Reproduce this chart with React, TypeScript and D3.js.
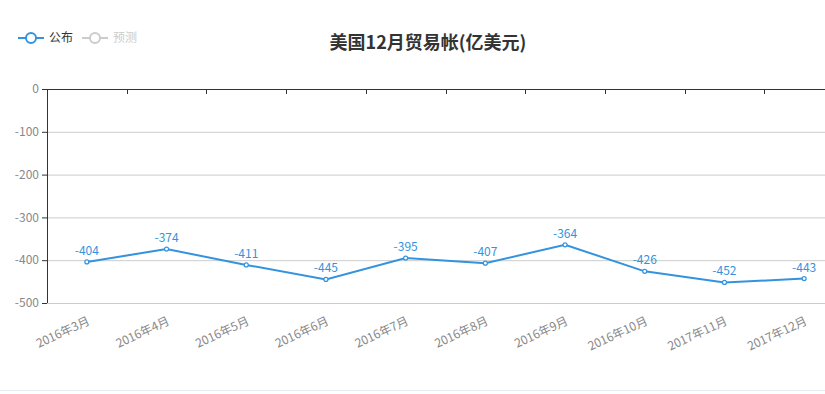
import { useEffect, useRef } from "react";
import * as d3 from "d3";

const WIDTH = 825;
const HEIGHT = 394;
const MARGIN = { top: 89, left: 47, bottom: 303, right: 844 };

const months = [
  "2016年3月",
  "2016年4月",
  "2016年5月",
  "2016年6月",
  "2016年7月",
  "2016年8月",
  "2016年9月",
  "2016年10月",
  "2017年11月",
  "2017年12月",
];
const published = [-404, -374, -411, -445, -395, -407, -364, -426, -452, -443];
const yTicks = [0, -100, -200, -300, -400, -500];

const FONT = "'Noto Sans CJK SC', 'Noto Sans', sans-serif";
const BLUE = "#3393de";

export default function App() {
  const svgRef = useRef<SVGSVGElement>(null);

  useEffect(() => {
    if (!svgRef.current) return;
    const svg = d3.select(svgRef.current);
    svg.selectAll("*").remove();

    const x = d3.scaleBand().domain(months).range([MARGIN.left, MARGIN.right]);
    const y = d3.scaleLinear().domain([-500, 0]).range([MARGIN.bottom, MARGIN.top]);
    const cx = (m: string) => (x(m) ?? 0) + x.bandwidth() / 2;

    // grid lines
    svg
      .append("g")
      .selectAll("line")
      .data(yTicks.filter((t) => t !== 0))
      .join("line")
      .attr("x1", MARGIN.left)
      .attr("x2", MARGIN.right)
      .attr("y1", (d) => y(d) + 0.5)
      .attr("y2", (d) => y(d) + 0.5)
      .attr("stroke", "#ccc");

    // y axis
    const yAxis = svg.append("g").attr("font-family", FONT);
    yAxis
      .append("line")
      .attr("x1", MARGIN.left + 0.5)
      .attr("x2", MARGIN.left + 0.5)
      .attr("y1", MARGIN.top)
      .attr("y2", MARGIN.bottom)
      .attr("stroke", "#333");
    yAxis
      .selectAll("line.tick")
      .data(yTicks)
      .join("line")
      .attr("class", "tick")
      .attr("x1", MARGIN.left - 5)
      .attr("x2", MARGIN.left)
      .attr("y1", (d) => y(d) + 0.5)
      .attr("y2", (d) => y(d) + 0.5)
      .attr("stroke", "#333");
    yAxis
      .selectAll("text")
      .data(yTicks)
      .join("text")
      .attr("x", MARGIN.left - 8)
      .attr("y", (d) => y(d))
      .attr("dy", "0.35em")
      .attr("text-anchor", "end")
      .attr("font-size", 12)
      .attr("fill", "#888")
      .text((d) => d);

    // x axis at top (value 0)
    const xAxis = svg.append("g").attr("font-family", FONT);
    xAxis
      .append("line")
      .attr("x1", MARGIN.left)
      .attr("x2", MARGIN.right)
      .attr("y1", y(0) + 0.5)
      .attr("y2", y(0) + 0.5)
      .attr("stroke", "#333");
    xAxis
      .selectAll("line.tick")
      .data(months.slice(1))
      .join("line")
      .attr("class", "tick")
      .attr("x1", (d) => Math.round(x(d) ?? 0) + 0.5)
      .attr("x2", (d) => Math.round(x(d) ?? 0) + 0.5)
      .attr("y1", y(0))
      .attr("y2", y(0) + 5)
      .attr("stroke", "#333");
    xAxis
      .selectAll("text")
      .data(months)
      .join("text")
      .attr("transform", (d) => `translate(${cx(d) + 2},${MARGIN.bottom + 17}) rotate(-25)`)
      .attr("text-anchor", "end")
      .attr("dy", "0.35em")
      .attr("font-size", 12)
      .attr("fill", "#888")
      .text((d) => d);

    // line
    const line = d3
      .line<number>()
      .x((_, i) => cx(months[i]))
      .y((d) => y(d));
    svg
      .append("path")
      .datum(published)
      .attr("d", line)
      .attr("fill", "none")
      .attr("stroke", BLUE)
      .attr("stroke-width", 2);

    svg
      .append("g")
      .selectAll("circle")
      .data(published)
      .join("circle")
      .attr("cx", (_, i) => cx(months[i]))
      .attr("cy", (d) => y(d))
      .attr("r", 2)
      .attr("fill", "#fff")
      .attr("stroke", BLUE)
      .attr("stroke-width", 1.2);

    svg
      .append("g")
      .attr("font-family", FONT)
      .selectAll("text")
      .data(published)
      .join("text")
      .attr("x", (_, i) => cx(months[i]))
      .attr("y", (d) => y(d) - 7)
      .attr("text-anchor", "middle")
      .attr("font-size", 12)
      .attr("fill", BLUE)
      .text((d) => d);

    // legend
    const legend = svg.append("g").attr("font-family", FONT);
    const items = [
      { name: "公布", color: BLUE, text: "#333" },
      { name: "预测", color: "#ccc", text: "#ccc" },
    ];
    items.forEach((it, i) => {
      const lx = 18 + i * 64;
      const g = legend.append("g").attr("transform", `translate(${lx},38)`);
      g.append("line")
        .attr("x1", 0)
        .attr("x2", 26)
        .attr("stroke", it.color)
        .attr("stroke-width", 2);
      g.append("circle")
        .attr("cx", 13)
        .attr("r", 5)
        .attr("fill", "#fff")
        .attr("stroke", it.color)
        .attr("stroke-width", 2);
      g.append("text")
        .attr("x", 31)
        .attr("dy", "0.35em")
        .attr("font-size", 12)
        .attr("fill", it.text)
        .text(it.name);
    });

    // title
    svg
      .append("text")
      .attr("x", 428)
      .attr("y", 43)
      .attr("dy", "0.35em")
      .attr("text-anchor", "middle")
      .attr("font-family", FONT)
      .attr("font-weight", "bold")
      .attr("font-size", 18)
      .attr("fill", "#333")
      .text("美国12月贸易帐(亿美元)");

    // bottom border
    svg
      .append("line")
      .attr("x1", 0)
      .attr("x2", WIDTH)
      .attr("y1", 390.5)
      .attr("y2", 390.5)
      .attr("stroke", "#e6eef3");
  }, []);

  return (
    <svg
      ref={svgRef}
      width={WIDTH}
      height={HEIGHT}
      style={{ position: "absolute", left: 0, top: 0, display: "block" }}
    />
  );
}
